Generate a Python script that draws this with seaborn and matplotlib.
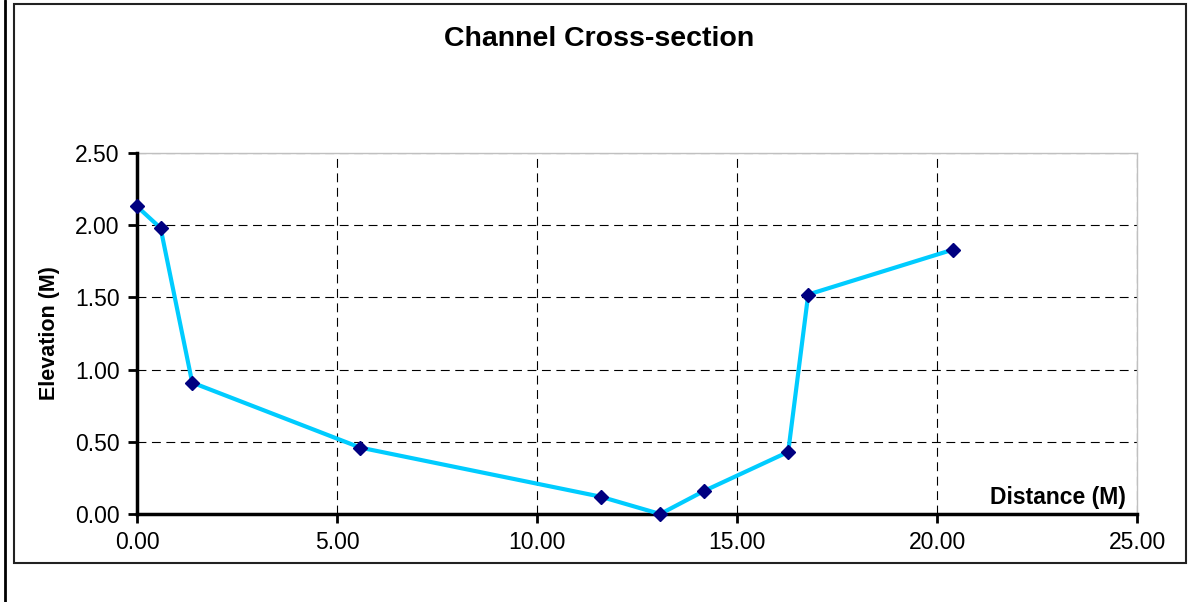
import matplotlib
matplotlib.use("Agg")
import matplotlib.pyplot as plt
import seaborn as sns
import pandas as pd
from matplotlib.patches import Rectangle
from matplotlib.lines import Line2D

# survey points across the channel
distance = [0.00, 0.59, 1.38, 5.58, 11.59, 13.08, 14.18, 16.28, 16.78, 20.39]
elevation = [2.13, 1.98, 0.91, 0.46, 0.12, 0.00, 0.16, 0.43, 1.52, 1.83]
x_ticks = [0, 5, 10, 15, 20, 25]
y_ticks = [0.0, 0.5, 1.0, 1.5, 2.0, 2.5]

df = pd.DataFrame({"Distance": distance, "Elevation": elevation})

sns.set_style("white")
plt.rcParams["font.family"] = ["Liberation Sans", "DejaVu Sans"]
plt.rcParams["text.color"] = "black"
plt.rcParams["axes.labelcolor"] = "black"

fig = plt.figure(figsize=(11.93, 6.02), dpi=100)
ax = fig.add_axes([137 / 1193, 1 - 514 / 602, 1000 / 1193, 361 / 602])

sns.lineplot(data=df, x="Distance", y="Elevation", ax=ax, sort=False,
             estimator=None, errorbar=None, color="#00CCFF", linewidth=3,
             marker="D", markersize=7.5, markerfacecolor="#000080",
             markeredgecolor="#000080", markeredgewidth=1, clip_on=False,
             zorder=5)

ax.set_xlim(0, 25)
ax.set_ylim(0, 2.5)
ax.set_xticks(x_ticks)
ax.set_yticks(y_ticks)
ax.set_xticklabels([f"{v:.2f}" for v in x_ticks])
ax.set_yticklabels([f"{v:.2f}" for v in y_ticks])
ax.grid(True, color="black", linestyle=(0, (8, 5)), linewidth=0.8)

for side in ["left", "bottom"]:
    ax.spines[side].set_color("black")
    ax.spines[side].set_linewidth(2.5)
    ax.spines[side].set_zorder(4)
for side in ["top", "right"]:
    ax.spines[side].set_color("#c0c0c0")
    ax.spines[side].set_linewidth(1)

ax.tick_params(axis="both", direction="out", length=6.5, width=2,
               labelsize=16.5, colors="black", pad=6, bottom=True, left=True)

ax.set_xlabel("")
ax.set_ylabel("Elevation (M)", fontsize=15.5, fontweight="bold")
ax.yaxis.set_label_coords(-0.077, 0.5)
ax.text(0.989, 0.047, "Distance (M)", transform=ax.transAxes, ha="right",
        va="center", fontsize=16.5, fontweight="bold")

fig.text(599 / 1193, 1 - 39 / 602, "Channel Cross-section", ha="center",
         va="center", fontsize=20.5, fontweight="bold")

# chart area frame and page edge
fig.patches.append(Rectangle((14 / 1193, 1 - 563 / 602), 1172 / 1193, 559 / 602,
                             transform=fig.transFigure, fill=False,
                             edgecolor="#222222", linewidth=1.5))
fig.lines.append(Line2D([5 / 1193, 5 / 1193], [0, 1], transform=fig.transFigure,
                        color="black", linewidth=2))

fig.savefig("out.png", dpi=100)
